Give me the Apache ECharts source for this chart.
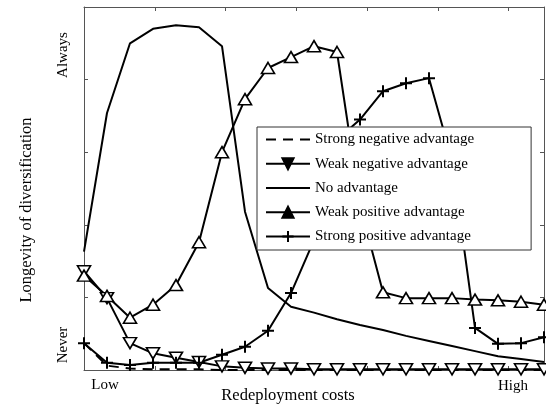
<!DOCTYPE html>
<html>
<head>
<meta charset="utf-8">
<script src="https://cdn.jsdelivr.net/npm/echarts@6/dist/echarts.min.js"></script>
<style>html,body{margin:0;padding:0;background:#fff;}#c{width:546px;height:409px;}</style>
</head>
<body>
<div id="c"></div>
<script>
// x positions: 21 evenly spaced redeployment-cost levels (Low ... High)
var xIdx = [0,1,2,3,4,5,6,7,8,9,10,11,12,13,14,15,16,17,18,19,20];
var seriesNames = ['Strong negative advantage','Weak negative advantage','No advantage','Weak positive advantage','Strong positive advantage'];
var strongNeg = [0.37,0.06,0.02,0.01,0.01,0.01,0.0,0.0,0.0,0.0,0.0,0.0,0.0,0.0,0.0,0.0,0.0,0.0,0.0,0.0,0.0];
var weakNeg   = [1.36,0.99,0.37,0.23,0.17,0.11,0.05,0.03,0.02,0.02,0.01,0.01,0.01,0.01,0.01,0.01,0.01,0.01,0.01,0.01,0.01];
var noAdv     = [1.63,3.54,4.50,4.70,4.75,4.72,4.46,2.18,1.13,0.87,0.79,0.70,0.62,0.55,0.47,0.40,0.33,0.26,0.19,0.15,0.11];
var weakPos   = [1.30,1.02,0.72,0.90,1.17,1.76,3.00,3.73,4.16,4.31,4.46,4.38,2.27,1.07,0.99,0.99,0.99,0.97,0.96,0.94,0.90];
var strongPos = [0.37,0.10,0.07,0.10,0.10,0.10,0.21,0.32,0.54,1.06,1.79,3.17,3.45,3.84,3.95,4.02,2.89,0.58,0.36,0.37,0.45];
var yLabels = ['Never','Always'];
var xLabels = ['Low','High'];
var xTitle = 'Redeployment costs';
var yTitle = 'Longevity of diversification';

function pairs(arr){ return arr.map(function(v,i){ return [xIdx[i], v]; }); }
var FONT = 'Liberation Serif';
var frameColor = '#555';
var xInterval = 20/6.5;

var chart = echarts.init(document.getElementById('c'), null, {renderer:'canvas'});
function axisCommon(){
  return {
    axisLine:{show:true, onZero:false, lineStyle:{color:frameColor, width:1}},
    axisTick:{show:true, inside:true, length:4, lineStyle:{color:frameColor, width:1}},
    axisLabel:{show:false},
    splitLine:{show:false}
  };
}
var xa0 = Object.assign({type:'value', min:0, max:20, interval:xInterval, position:'bottom'}, axisCommon());
var xa1 = Object.assign({type:'value', min:0, max:20, interval:xInterval, position:'top'}, axisCommon());
var ya0 = Object.assign({type:'value', min:0, max:5, interval:1, position:'left'}, axisCommon());
var ya1 = Object.assign({type:'value', min:0, max:5, interval:1, position:'right'}, axisCommon());

var plusPath = 'path://M5,0L5,10M0,5L10,5';
var dashIcon = 'path://M0,0h10v2h-10zM17,0h10v2h-10zM34,0h10v2h-10z';
var solidIcon = 'path://M0,0h44v2h-44z';
var lineW = 2;
var option = {
  animation:false,
  backgroundColor:'#fff',
  grid:{left:84, right:2, top:7, bottom:39},
  xAxis:[xa0, xa1],
  yAxis:[ya0, ya1],
  legend:{
    orient:'vertical', left:257, top:127,
    padding:[5,57,6,8],
    itemWidth:44, itemHeight:14, itemGap:9.25,
    backgroundColor:'#fff', borderColor:'#333', borderWidth:1, borderRadius:0,
    textStyle:{fontFamily:FONT, fontSize:15, color:'#000', lineHeight:14},
    data:[
      {name:seriesNames[0], icon:dashIcon, itemStyle:{color:'#000'}},
      {name:seriesNames[1], itemStyle:{color:'#000'}},
      {name:seriesNames[2], icon:solidIcon, itemStyle:{color:'#000'}},
      {name:seriesNames[3], itemStyle:{color:'#000'}},
      {name:seriesNames[4]}
    ]
  },
  series:[
    {name:seriesNames[0], type:'line', data:pairs(strongNeg), showSymbol:false, symbol:'none',
     lineStyle:{color:'#000', width:lineW, type:[10,7]}, itemStyle:{color:'#000'}},
    {name:seriesNames[1], type:'line', data:pairs(weakNeg), symbol:'triangle', symbolRotate:180, symbolSize:[13,11],
     lineStyle:{color:'#000', width:lineW}, itemStyle:{color:'#fff', borderColor:'#000', borderWidth:1.6}},
    {name:seriesNames[2], type:'line', data:pairs(noAdv), symbol:'none',
     lineStyle:{color:'#000', width:lineW}, itemStyle:{color:'#000'}},
    {name:seriesNames[3], type:'line', data:pairs(weakPos), symbol:'triangle', symbolSize:[13,11],
     lineStyle:{color:'#000', width:lineW}, itemStyle:{color:'#fff', borderColor:'#000', borderWidth:1.6}},
    {name:seriesNames[4], type:'line', data:pairs(strongPos), symbol:plusPath, symbolSize:12,
     lineStyle:{color:'#000', width:lineW}, itemStyle:{color:'#000', borderColor:'#000', borderWidth:2}}
  ],
  graphic:[
    {type:'text', x:63, y:55, rotation:Math.PI/2, style:{text:yLabels[1], fontFamily:FONT, fontSize:15, fill:'#000', textAlign:'center', textVerticalAlign:'middle'}},
    {type:'text', x:63, y:345, rotation:Math.PI/2, style:{text:yLabels[0], fontFamily:FONT, fontSize:15, fill:'#000', textAlign:'center', textVerticalAlign:'middle'}},
    {type:'text', x:27, y:210, rotation:Math.PI/2, style:{text:yTitle, fontFamily:FONT, fontSize:16.5, fill:'#000', textAlign:'center', textVerticalAlign:'middle'}},
    {type:'text', x:105, y:385, style:{text:xLabels[0], fontFamily:FONT, fontSize:15, fill:'#000', textAlign:'center', textVerticalAlign:'middle'}},
    {type:'text', x:513, y:386, style:{text:xLabels[1], fontFamily:FONT, fontSize:15, fill:'#000', textAlign:'center', textVerticalAlign:'middle'}},
    {type:'text', x:288, y:396, style:{text:xTitle, fontFamily:FONT, fontSize:16.5, fill:'#000', textAlign:'center', textVerticalAlign:'middle'}}
  ]
};
chart.setOption(option);
</script>
</body>
</html>
